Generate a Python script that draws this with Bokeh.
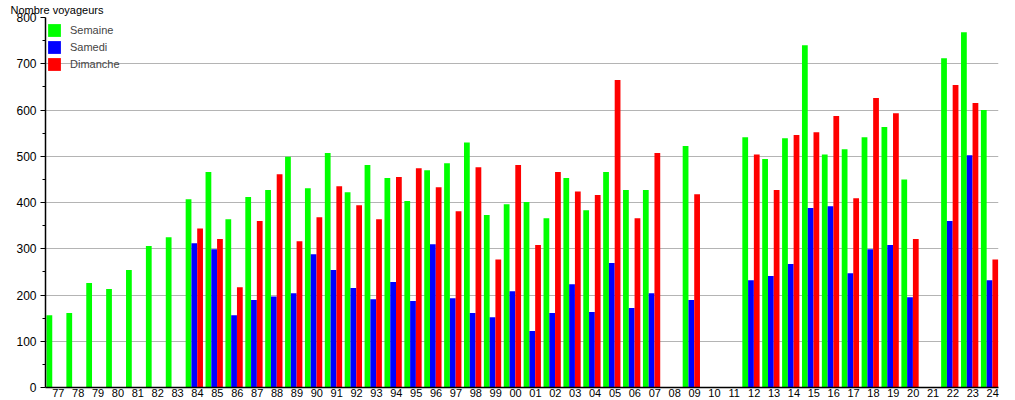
from bokeh.plotting import figure
from bokeh.models import (ColumnDataSource, Range1d, FixedTicker, Title, Legend, LegendItem)
from bokeh.embed import file_html
from bokeh.resources import INLINE

nan = float("nan")

years = ["77", "78", "79", "80", "81", "82", "83", "84", "85", "86", "87", "88",
         "89", "90", "91", "92", "93", "94", "95", "96", "97", "98", "99", "00",
         "01", "02", "03", "04", "05", "06", "07", "08", "09", "10", "11", "12",
         "13", "14", "15", "16", "17", "18", "19", "20", "21", "22", "23", "24"]

semaine = [156, 161, 226, 213, 254, 306, 325,
           407, 466, 364, 412, 427, 499, 431, 507, 422, 481, 453, 403, 470, 485, 530, 373,
           396, 401, 366, 453, 383, 466, 427, 427,
           nan, 522, nan, nan,
           541, 494, 539, 740, 504, 515, 541, 563, 450,
           nan, 712, 768, 600]

samedi = [nan, nan, nan, nan, nan, nan, nan,
          312, 299, 156, 189, 197, 204, 288, 254, 215, 191, 228, 187, 310, 193, 161, 152,
          208, 122, 161, 223, 163, 269, 172, 204,
          nan, 189, nan, nan,
          232, 241, 267, 388, 392, 247, 299, 308, 195,
          nan, 360, 502, 232]

dimanche = [nan, nan, nan, nan, nan, nan, nan,
            344, 321, 217, 360, 461, 316, 368, 435, 394, 364, 455, 474, 433, 381, 476, 277,
            481, 308, 466, 424, 416, 665, 366, 507,
            nan, 418, nan, nan,
            504, 427, 546, 552, 587, 409, 626, 593, 321,
            nan, 654, 615, 277]

series_names = ["Semaine", "Samedi", "Dimanche"]
series_colors = ["#00ff00", "#0000ff", "#ff0000"]

idx = list(range(len(years)))
bw = 0.29
src = ColumnDataSource(dict(
    x_g=[i - 0.16 - bw for i in idx],
    x_b=[i - 0.16 for i in idx],
    x_r=[i - 0.16 + bw for i in idx],
    semaine=semaine, samedi=samedi, dimanche=dimanche,
))

font = "Liberation Sans"

p = figure(width=1008, height=400, output_backend="svg", toolbar_location=None,
           x_range=Range1d(-0.645, 47.29), y_range=Range1d(0, 800),
           min_border_left=45, min_border_right=10, min_border_top=17, min_border_bottom=13)
p.title = Title(text="Nombre voyageurs", align="left", offset=-35, standoff=3,
                text_font=font, text_font_size="11px", text_font_style="normal",
                text_color="black")
p.outline_line_color = None
p.background_fill_color = "white"
p.border_fill_color = "white"

rg = p.vbar(x="x_g", top="semaine", width=bw, source=src, fill_color=series_colors[0], line_color=None)
rb = p.vbar(x="x_b", top="samedi", width=bw, source=src, fill_color=series_colors[1], line_color=None)
rr = p.vbar(x="x_r", top="dimanche", width=bw, source=src, fill_color=series_colors[2], line_color=None)

# x axis
p.xaxis.ticker = FixedTicker(ticks=idx)
p.xaxis.major_label_overrides = {i: y for i, y in enumerate(years)}
p.xaxis.major_tick_out = 0
p.xaxis.major_tick_in = 0
p.xaxis.minor_tick_out = 0
p.xaxis.minor_tick_in = 0
p.xaxis.major_label_standoff = 1
p.xaxis.axis_line_color = "black"
p.xaxis.axis_line_width = 1.5
p.xaxis.major_label_text_font = font
p.xaxis.major_label_text_font_size = "11px"
p.xaxis.major_label_text_color = "black"
p.xgrid.grid_line_color = None

# y axis
p.yaxis.ticker = FixedTicker(ticks=list(range(0, 801, 100)), minor_ticks=list(range(50, 800, 100)))
p.yaxis.major_tick_out = 5
p.yaxis.major_tick_in = 0
p.yaxis.minor_tick_out = 3
p.yaxis.minor_tick_in = 0
p.yaxis.major_tick_line_color = "black"
p.yaxis.minor_tick_line_color = "black"
p.yaxis.axis_line_color = "black"
p.yaxis.axis_line_width = 1.5
p.yaxis.major_label_standoff = 4
p.yaxis.major_label_text_font = font
p.yaxis.major_label_text_font_size = "12px"
p.yaxis.major_label_text_color = "black"
p.ygrid.grid_line_color = "#b4b4b4"
p.ygrid.grid_line_width = 1

legend = Legend(items=[LegendItem(label=series_names[0], renderers=[rg]),
                       LegendItem(label=series_names[1], renderers=[rb]),
                       LegendItem(label=series_names[2], renderers=[rr])],
                location=(1, 315), margin=0, padding=0, spacing=1,
                glyph_width=16, glyph_height=16, label_height=16, label_standoff=8,
                label_text_font=font, label_text_font_size="11px",
                background_fill_alpha=0, border_line_color=None)
p.add_layout(legend)

open("out.html", "w").write(file_html(p, INLINE))
